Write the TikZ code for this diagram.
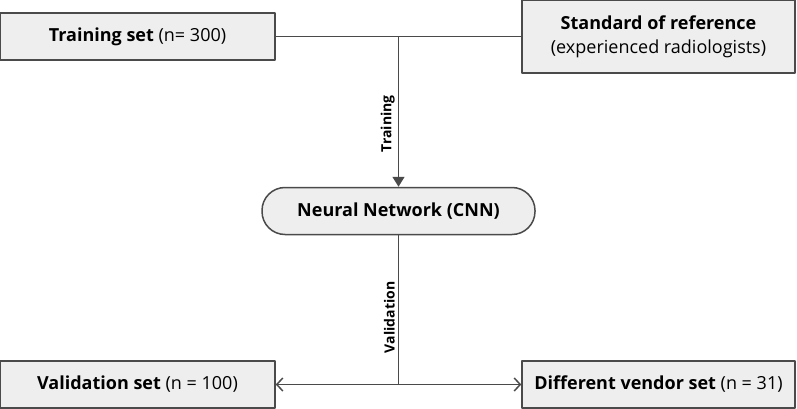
\documentclass[tikz,border=0pt]{standalone}
\usepackage{fontspec}
\setmainfont{Open Sans}
\usetikzlibrary{arrows.meta}
\definecolor{boxfill}{HTML}{EEEEEE}
\definecolor{boxline}{HTML}{4A4A4A}
\tikzset{
	setbox/.style={draw=boxline, fill=boxfill, line width=1.5pt, inner sep=0pt,
		minimum height=47pt, align=center, font=\fontsize{18}{24}\selectfont},
	netbox/.style={setbox, rounded corners=23pt},
	link/.style={draw=boxline, line width=1.5pt},
	steplabel/.style={rotate=90, anchor=south, inner sep=3pt, font=\fontsize{14}{16}\selectfont\bfseries}
}
\begin{document}
\begin{tikzpicture}[x=1pt, y=-1pt, line join=round]
	\useasboundingbox (0,0) rectangle (797,409);
	\path
	(137.5,36.5) node[setbox, minimum width=275pt] (train) {\textbf{Training set} (n= 300)}
	(658.5,36.5) node[setbox, minimum width=273pt, minimum height=73pt] (ref) {\textbf{Standard of reference}\\(experienced radiologists)}
	(398.5,211) node[netbox, minimum width=273pt] (cnn) {\textbf{Neural Network (CNN)}}
	(137.5,384.5) node[setbox, minimum width=275pt] (valid) {\textbf{Validation set} (n = 100)}
	(658.5,384.5) node[setbox, minimum width=273pt] (vendor) {\textbf{Different vendor set} (n = 31)};
	\coordinate (top) at (cnn.north |- train.east);
	\coordinate (bot) at (cnn.south |- valid.east);
	\draw[link] (train) -- (ref);
	\draw[link, -{Triangle[length=10pt, width=12pt]}] (top) -- node[steplabel, pos=.58] {Training} (cnn.north);
	\draw[link] (cnn.south) -- node[steplabel, pos=.55] {Validation} (bot);
	\draw[link, -{Straight Barb[length=6pt, width=13pt]}] (bot) -- (valid.east);
	\draw[link, -{Straight Barb[length=6pt, width=13pt]}] (bot) -- (vendor.west);
\end{tikzpicture}
\end{document}
